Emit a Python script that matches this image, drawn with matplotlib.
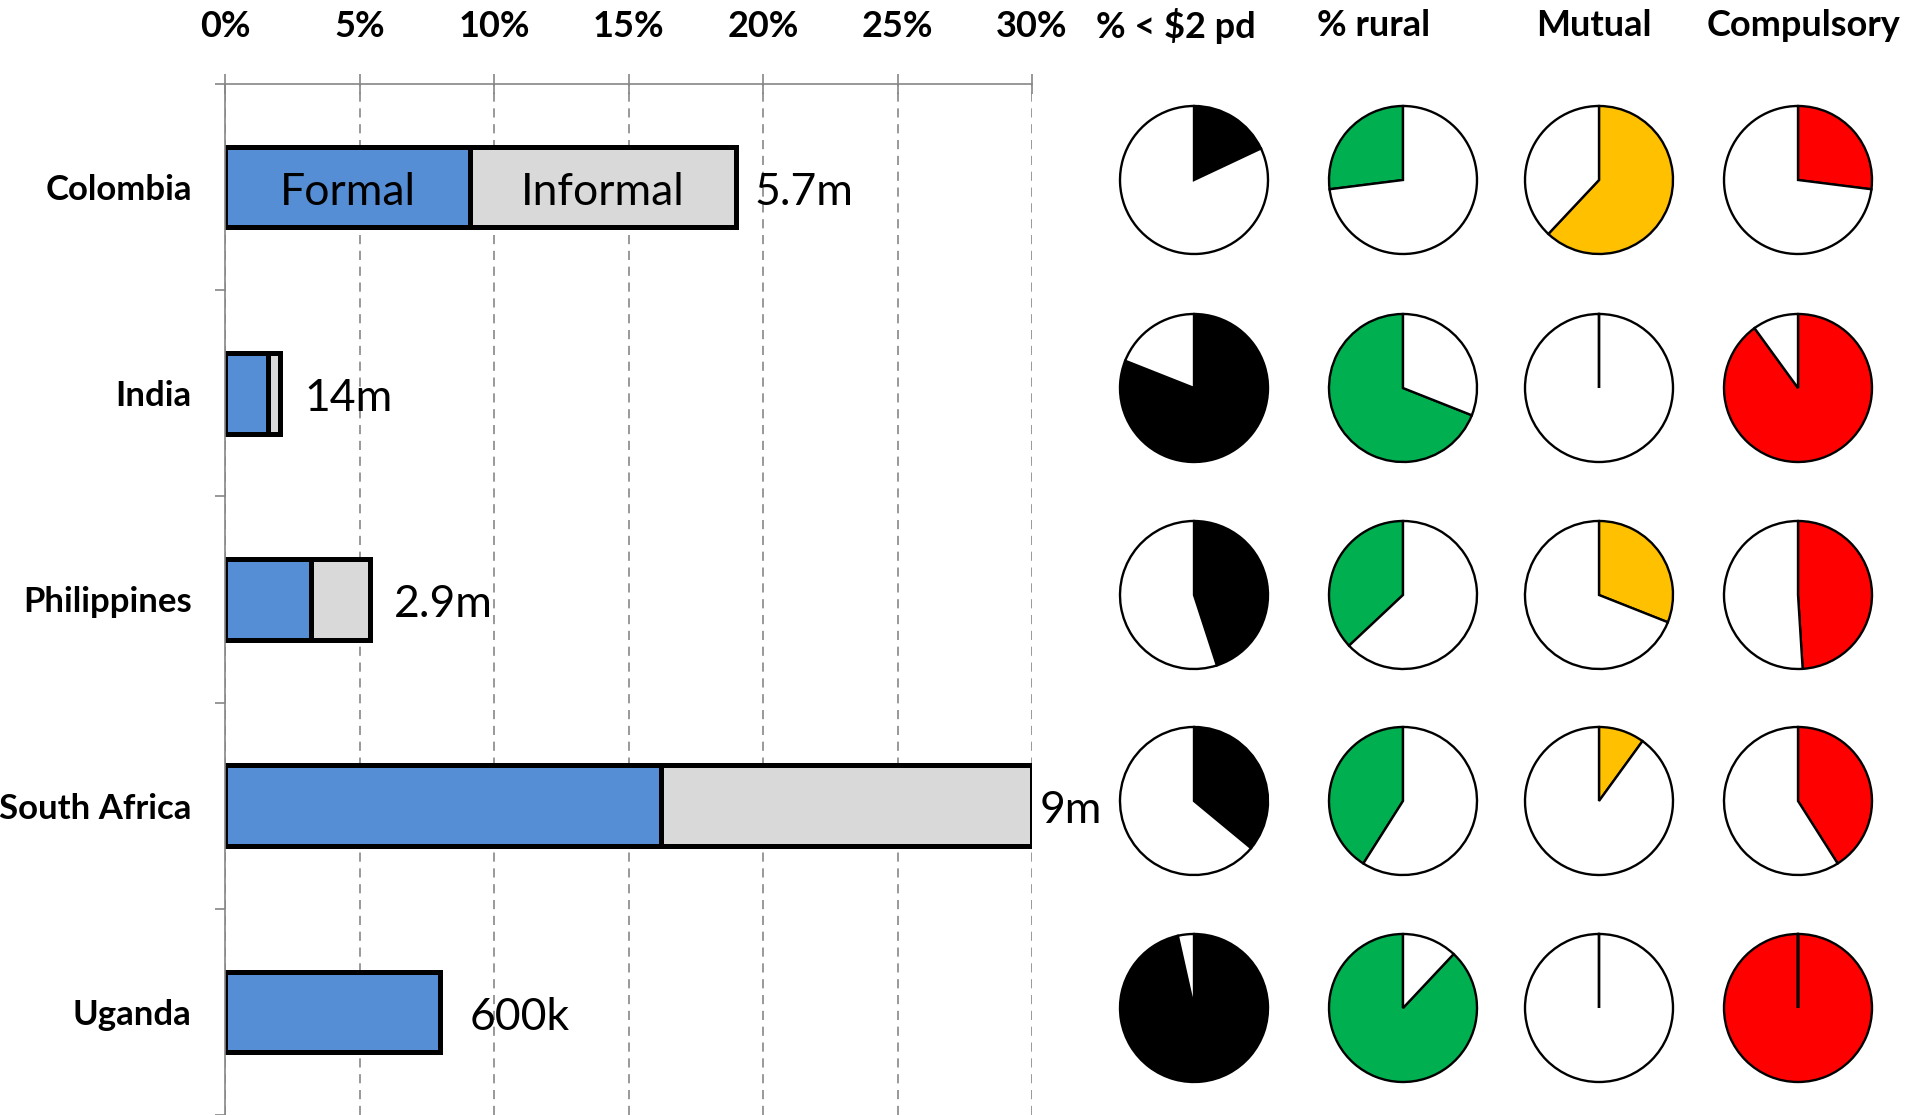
import numpy as np
import matplotlib.pyplot as plt

plt.rcParams['font.family'] = ['Lato', 'DejaVu Sans']

# Datos de las barras (% de la población)
countries = ['Colombia', 'India', 'Philippines', 'South Africa', 'Uganda']
formal = [9.1, 1.6, 3.2, 16.2, 8.0]
informal = [9.9, 0.45, 2.2, 13.8, 0.0]
totals_text = ['5.7m', '14m', '2.9m', '9m', '600k']
xticks = [0, 5, 10, 15, 20, 25, 30]

# Datos de las tortas (fracción)
pie_titles = ['% < $2 pd', '% rural', 'Mutual', 'Compulsory']
below_2pd = [0.18, 0.81, 0.45, 0.36, 0.965]
rural = [0.27, 0.69, 0.37, 0.41, 0.88]
mutual = [0.62, 0.0, 0.31, 0.10, 0.0]
compulsory = [0.27, 0.90, 0.49, 0.41, 1.0]

# Estilos
pie_values = [below_2pd, rural, mutual, compulsory]
pie_colors = ['black', '#00B050', '#FFC000', '#FF0000']
pie_ccw = [False, True, False, False]
label_gap = [0.68, 0.9, 0.86, 0.27, 1.08]

W, H = 1907, 1115
grey = '#868686'
fig = plt.figure(figsize=(W / 100, H / 100), dpi=100)

# Barras apiladas
ax = fig.add_axes([225 / W, 0, (1032 - 225) / W, (H - 84) / H])
y = np.arange(len(countries))
ax.barh(y, formal, height=0.39, color='#558ED5', edgecolor='black', linewidth=3.6)
ax.barh(y, informal, left=formal, height=0.39, color='#D9D9D9', edgecolor='black', linewidth=3.6)

# Etiquetas de texto (un poco por debajo del centro, como en el original)
dy = 0.025
tot = np.array(formal) + np.array(informal)
for i, t in enumerate(totals_text):
    ax.text(tot[i] + label_gap[i], y[i] + dy, t, ha='left', va='center', fontsize=32, clip_on=False)
ax.text(formal[0] / 2, y[0] + dy, 'Formal', ha='center', va='center', fontsize=32)
ax.text(formal[0] + informal[0] / 2, y[0] + dy, 'Informal', ha='center', va='center', fontsize=32)

ax.set_xlim(0, 30)
ax.set_ylim(len(countries) - 0.5, -0.5)
ax.xaxis.tick_top()
ax.set_xticks(xticks)
ax.set_xticklabels([f'{v}%' for v in xticks], fontsize=26, fontweight='bold')
ax.tick_params(axis='x', direction='inout', length=15, width=1.2, color=grey, pad=22)
ax.set_yticks(y)
ax.set_yticklabels(countries, fontsize=25, fontweight='bold')
ax.tick_params(axis='y', which='major', length=0, pad=24)
ax.set_yticks(np.arange(-0.5, len(countries), 1), minor=True)
ax.tick_params(axis='y', which='minor', length=7, width=1.2, color=grey)
ax.grid(axis='x', linestyle=(0, (5.5, 4)), color='#878787', linewidth=1.2)
ax.set_axisbelow(True)
for s in ['right', 'bottom']:
    ax.spines[s].set_visible(False)
for s in ['top', 'left']:
    ax.spines[s].set_color(grey)
    ax.spines[s].set_linewidth(1.2)

# Tortas
col_x = [1194, 1403, 1599, 1798]
row_y = [180, 388, 595, 801, 1008]
title_x = [1176, 1374, 1594, 1804]
r = 74
m = 6
for j, vals in enumerate(pie_values):
    fig.text(title_x[j] / W, 1 - 26 / H, pie_titles[j], ha='center', va='center',
             fontsize=26, fontweight='bold')
    for i, v in enumerate(vals):
        pax = fig.add_axes([(col_x[j] - r - m) / W, 1 - (row_y[i] + r + m) / H,
                            (2 * r + 2 * m) / W, (2 * r + 2 * m) / H])
        v = min(max(v, 1e-6), 1 - 1e-6)
        pax.pie([v, 1 - v], colors=[pie_colors[j], 'white'], startangle=90,
                counterclock=pie_ccw[j], radius=1,
                wedgeprops=dict(edgecolor='black', linewidth=1.7))
        pax.set_xlim(-(r + m) / r, (r + m) / r)
        pax.set_ylim(-(r + m) / r, (r + m) / r)

fig.savefig('out.png', dpi=100)
